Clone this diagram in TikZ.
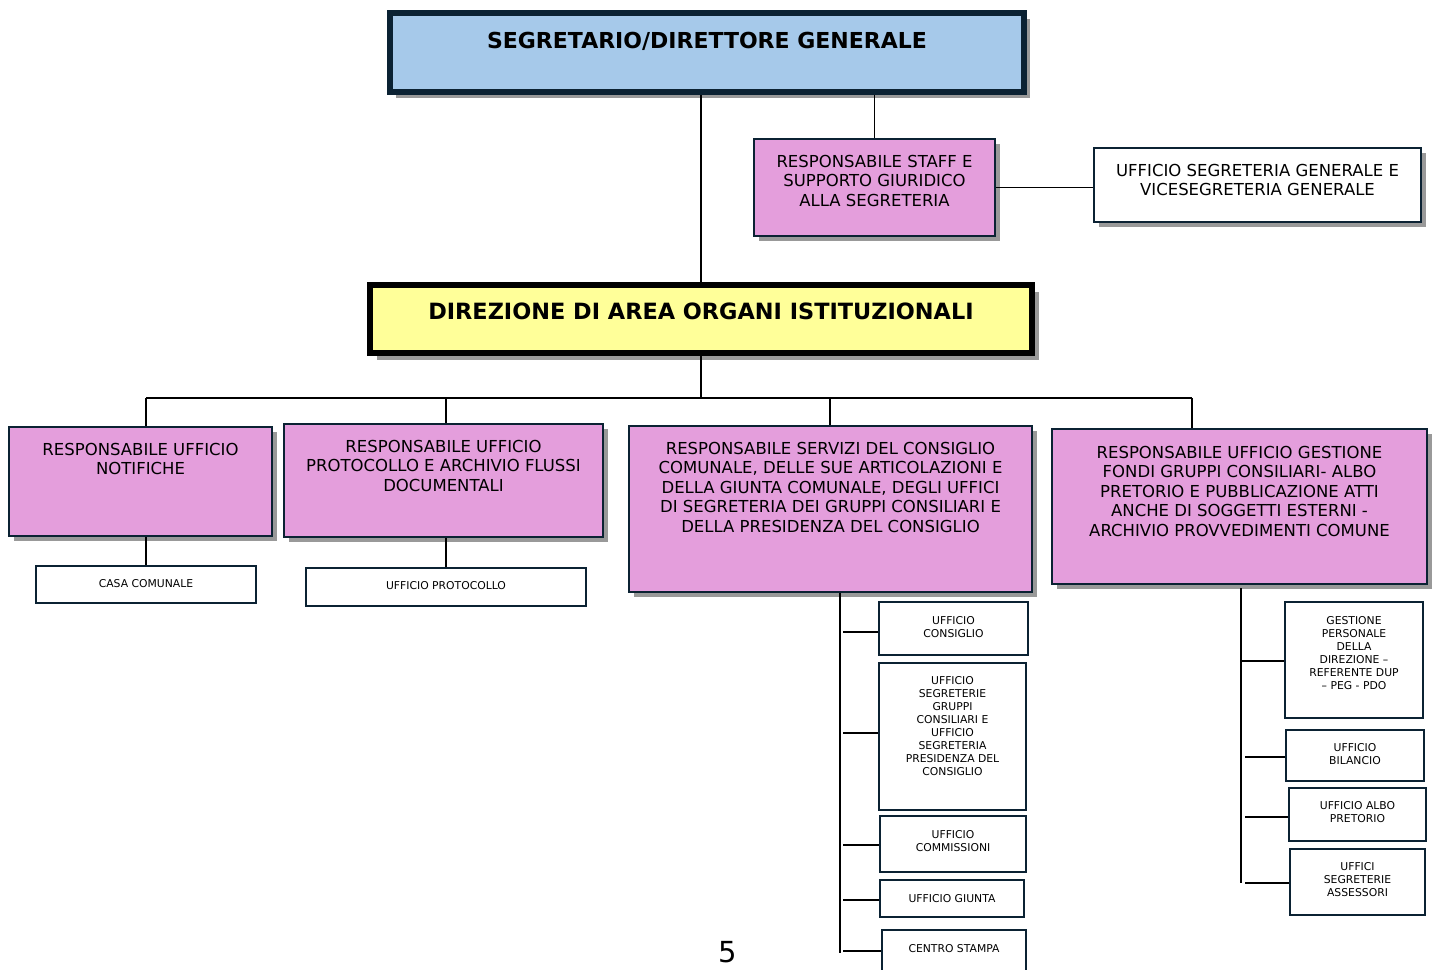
\documentclass[tikz,border=0pt]{standalone}
\usepackage{fontspec}
\setmainfont{DejaVu Sans}
\usetikzlibrary{shadows}
\definecolor{navy}{HTML}{0B2233}
\definecolor{pinkf}{HTML}{E49EDC}
\definecolor{bluef}{HTML}{A6C9EA}
\definecolor{yellowf}{HTML}{FFFF99}
\definecolor{shade}{HTML}{999999}
\tikzset{
  sh/.style={drop shadow={shadow xshift=#1, shadow yshift=-#1, fill=shade, opacity=1}},
  bx/.style={draw=navy, line width=2.5pt, inner sep=0pt},
  pinkbox/.style={bx, fill=pinkf, sh=5pt},
  whitebox/.style={bx, fill=white, sh=5pt},
  smallbox/.style={bx, fill=white},
  topbox/.style={draw=navy, line width=6pt, inner sep=0pt, fill=bluef, sh=6pt},
  dirbox/.style={draw=black, line width=6pt, inner sep=0pt, fill=yellowf, sh=7pt},
  txt/.style={anchor=north, inner sep=0pt, align=center},
  midtxt/.style={txt, font=\fontsize{16.5}{19.5}\selectfont},
  smltxt/.style={txt, font=\fontsize{10.8}{13}\selectfont},
  bigtxt/.style={txt, font=\fontsize{22}{26}\selectfont\bfseries},
  conn/.style={draw=black, line width=1.1pt}
}
\newcommand\obox[6]{\node[#2, minimum width={#5pt-#3pt}, minimum height={#6pt-#4pt}] (#1) at ({(#3+#5)/2},{(#4+#6)/2}) {};}
\begin{document}
\begin{tikzpicture}[x=1pt,y=-1pt]
\useasboundingbox (0,0) rectangle (1437,969);
\clip (0,0) rectangle (1437,969);
\fill[white] (0,0) rectangle (1437,969);

% top level
\obox{top}{topbox}{390}{13}{1024}{92}
\node[bigtxt] at ([yshift=-22pt]top.north) {SEGRETARIO/DIRETTORE GENERALE};

\obox{staff}{pinkbox}{754}{139}{995}{236}
\node[midtxt] at ([yshift=-17pt]staff.north) {RESPONSABILE STAFF E\\SUPPORTO GIURIDICO\\ALLA SEGRETERIA};

\obox{seg}{whitebox}{1094}{148}{1421}{222}
\node[midtxt] at ([yshift=-17pt]seg.north) {UFFICIO SEGRETERIA GENERALE E\\VICESEGRETERIA GENERALE};

\obox{dir}{dirbox}{370}{285}{1032}{353}
\node[bigtxt, font=\fontsize{22.4}{26}\selectfont\bfseries] at ([yshift=-21pt]dir.north) {DIREZIONE DI AREA ORGANI ISTITUZIONALI};

% second level
\obox{b1}{pinkbox}{9}{427}{272}{536}
\node[midtxt] at ([yshift=-17pt]b1.north) {RESPONSABILE UFFICIO\\NOTIFICHE};
\obox{b2}{pinkbox}{284}{424}{603}{537}
\node[midtxt] at ([yshift=-17pt]b2.north) {RESPONSABILE UFFICIO\\PROTOCOLLO E ARCHIVIO FLUSSI\\DOCUMENTALI};
\obox{b3}{pinkbox}{629}{426}{1032}{592}
\node[midtxt] at ([yshift=-17pt]b3.north) {RESPONSABILE SERVIZI DEL CONSIGLIO\\COMUNALE, DELLE SUE ARTICOLAZIONI E\\DELLA GIUNTA COMUNALE, DEGLI UFFICI\\DI SEGRETERIA DEI GRUPPI CONSILIARI E\\DELLA PRESIDENZA DEL CONSIGLIO};
\obox{b4}{pinkbox}{1052}{429}{1427}{584}
\node[midtxt] at ([yshift=-18pt]b4.north) {RESPONSABILE UFFICIO GESTIONE\\FONDI GRUPPI CONSILIARI- ALBO\\PRETORIO E PUBBLICAZIONE ATTI\\ANCHE DI SOGGETTI ESTERNI -\\ARCHIVIO PROVVEDIMENTI COMUNE};

% third level
\obox{casa}{smallbox}{36}{566}{256}{603}
\node[smltxt] at ([yshift=-15pt]casa.north) {CASA COMUNALE};
\obox{prot}{smallbox}{306}{568}{586}{606}
\node[smltxt] at ([yshift=-15pt]prot.north) {UFFICIO PROTOCOLLO};

\obox{c1}{smallbox}{879}{602}{1028}{655}
\node[smltxt] at ([yshift=-15.5pt]c1.north) {UFFICIO\\CONSIGLIO};
\obox{c2}{smallbox}{879}{663}{1026}{810}
\node[smltxt] at ([yshift=-14.5pt]c2.north) {UFFICIO\\SEGRETERIE\\GRUPPI\\CONSILIARI E\\UFFICIO\\SEGRETERIA\\PRESIDENZA DEL\\CONSIGLIO};
\obox{c3}{smallbox}{880}{816}{1026}{872}
\node[smltxt] at ([yshift=-15.5pt]c3.north) {UFFICIO\\COMMISSIONI};
\obox{c4}{smallbox}{880}{880}{1024}{917}
\node[smltxt] at ([yshift=-15.5pt]c4.north) {UFFICIO GIUNTA};
\obox{c5}{smallbox}{882}{930}{1026}{980}
\node[smltxt] at ([yshift=-15.5pt]c5.north) {CENTRO STAMPA};

\obox{e1}{smallbox}{1285}{602}{1423}{718}
\node[smltxt] at ([yshift=-15.5pt]e1.north) {GESTIONE\\PERSONALE\\DELLA\\DIREZIONE –\\REFERENTE DUP\\– PEG - PDO};
\obox{e2}{smallbox}{1286}{730}{1424}{781}
\node[smltxt] at ([yshift=-14.5pt]e2.north) {UFFICIO\\BILANCIO};
\obox{e3}{smallbox}{1289}{788}{1426}{841}
\node[smltxt] at ([yshift=-14.5pt]e3.north) {UFFICIO ALBO\\PRETORIO};
\obox{e4}{smallbox}{1290}{849}{1425}{915}
\node[smltxt] at ([yshift=-14.5pt]e4.north) {UFFICI\\SEGRETERIE\\ASSESSORI};

% connectors
\draw[conn] (dir.north |- top.south) -- (dir.north);
\draw[conn] (staff.north |- top.south) -- (staff.north);
\draw[conn] (staff.east) -- (seg.west |- staff.east);

\coordinate (j1) at (146,398);
\coordinate (j2) at (446,398);
\coordinate (j3) at (830,398);
\coordinate (j4) at (1192,398);
\draw[conn] (dir.south) -- (dir.south |- j1);
\draw[conn] (j1) -- (j4);
\draw[conn] (j1) -- (j1 |- b1.north);
\draw[conn] (j2) -- (j2 |- b2.north);
\draw[conn] (j3) -- (j3 |- b3.north);
\draw[conn] (j4) -- (j4 |- b4.north);

\draw[conn] (casa.north |- b1.south) -- (casa.north);
\draw[conn] (prot.north |- b2.south) -- (prot.north);

\coordinate (v3) at (840,593);
\coordinate (v3e) at (840,953);
\coordinate (s3) at (843,0);
\draw[conn] (v3) -- (v3e);
\foreach \n/\yy in {c1/632,c2/733,c3/845,c4/900,c5/951}{
  \draw[conn] (s3 |- 0,\yy) -- (\n.west |- 0,\yy);
}

\coordinate (v4) at (1241,588);
\coordinate (v4e) at (1241,883);
\coordinate (s4) at (1245,0);
\draw[conn] (v4) -- (v4e);
\draw[conn] (v4 |- 0,661) -- (e1.west |- 0,661);
\draw[conn] (s4 |- 0,757) -- (e2.west |- 0,757);
\draw[conn] (s4 |- 0,817) -- (e3.west |- 0,817);
\draw[conn] (s4 |- 0,883) -- (e4.west |- 0,883);

\node[inner sep=0pt, font=\fontsize{29}{29}\selectfont] (pg) at (728,952) {5};
\end{tikzpicture}
\end{document}
